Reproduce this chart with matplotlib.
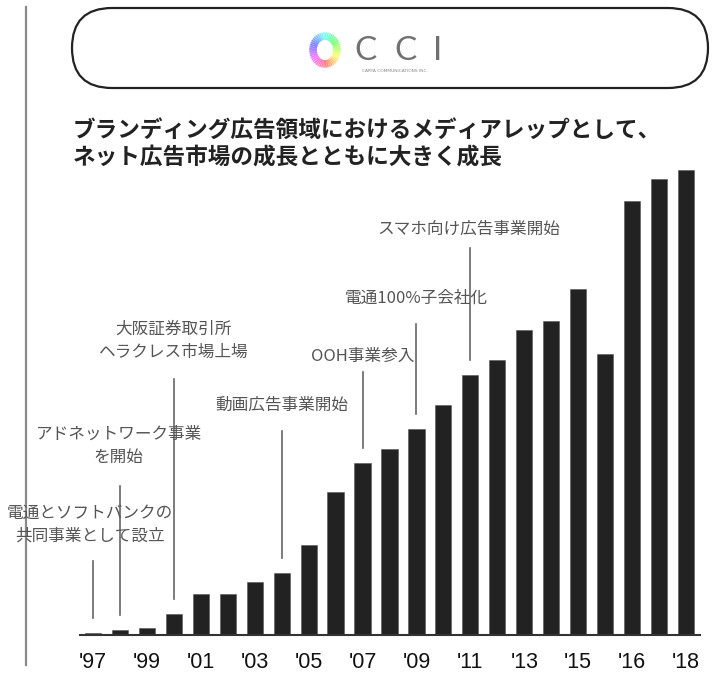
import numpy as np
import matplotlib.pyplot as plt
from matplotlib.patches import FancyBboxPatch

plt.rcParams['font.family'] = ['Noto Sans CJK JP', 'DejaVu Sans']

# bar heights (arbitrary units), one per fiscal period
periods = ['1997', '1998', '1999', '2000', '2001', '2002', '2003', '2004', '2005',
           '2006', '2007', '2008', '2009', '2010', '2011', '2012', '2013', '2014',
           '2015', '2015b', '2016', '2017', '2018']
values = [2.5, 5, 7, 21, 41, 41, 53, 62, 90, 143, 172, 186, 206, 230, 260,
          275, 305, 314, 346, 281, 434, 456, 465]
tick_idx = [0, 2, 4, 6, 8, 10, 12, 14, 16, 18, 20, 22]
tick_labels = ["'97", "'99", "'01", "'03", "'05", "'07", "'09", "'11", "'13",
               "'15", "'16", "'18"]

# milestone notes: bar index, text
notes_idx = [0, 1, 3, 7, 10, 12, 14]
notes_text = [
    '電通とソフトバンクの\n共同事業として設立',
    'アドネットワーク事業\nを開始',
    '大阪証券取引所\nヘラクレス市場上場',
    '動画広告事業開始',
    'OOH事業参入',
    '電通100%子会社化',
    'スマホ向け広告事業開始',
]
# layout of the notes: leader top, label x/y (data units)
notes_line_top = [74, 149, 256, 204, 263, 311, 387]
notes_label_x = [-0.1, 0.95, 3.0, 7.0, 10.0, 12.0, 13.95]
notes_label_y = [110, 189, 294, 230, 279, 337, 406]

W, H = 715, 675
fig = plt.figure(figsize=(W / 100, H / 100), dpi=100)

# decorations in pixel coordinates
deco = fig.add_axes([0, 0, 1, 1])
deco.set_xlim(0, W)
deco.set_ylim(H, 0)
deco.axis('off')

deco.plot([26, 26], [7, 665], color='#8a8a8a', lw=1.6)
box = FancyBboxPatch((72, 8), 636, 80, boxstyle='round,pad=0,rounding_size=40',
                     fc='white', ec='#222222', lw=1.6)
deco.add_patch(box)

# logo ring, pastel rainbow
cmap = plt.get_cmap('hsv')
n = 48
angles = np.linspace(0, 2 * np.pi, n + 1)
for k in range(n):
    a = angles[k:k + 2]
    c = np.array(cmap((0.25 + k / n) % 1)[:3]) * 0.5 + 0.5
    deco.plot(325 + 12 * np.cos(a), 50 - 14 * np.sin(a), color=c, lw=5.5,
              solid_capstyle='butt')
for x, ch in zip([366, 406, 438], ['C', 'C', 'I']):
    deco.text(x, 51, ch, fontsize=24, color='#707070', ha='center', va='center',
              family=['Lato', 'DejaVu Sans'])
deco.text(395, 71, 'CARTA COMMUNICATIONS INC.', fontsize=3.2, color='#888888',
          ha='center', va='center', family=['DejaVu Sans'])

deco.text(73, 144, 'ブランディング広告領域におけるメディアレップとして、\nネット広告市場の成長とともに大きく成長',
          fontsize=16.3, fontweight='bold', color='#222222', ha='left', va='center',
          linespacing=1.2)

# bar chart
ax = fig.add_axes([80 / W, 40 / H, 620 / W, 470 / H])
ax.patch.set_alpha(0)
x = np.arange(len(values))
ax.bar(x, values, width=0.6, color='#222222', edgecolor='#555555', linewidth=0.4)
ax.set_xlim(-0.482, 22.52)
ax.set_ylim(0, 470)
for side in ['top', 'right', 'left']:
    ax.spines[side].set_visible(False)
ax.spines['bottom'].set_color('#333333')
ax.spines['bottom'].set_linewidth(1.5)
ax.set_yticks([])
ax.set_xticks(tick_idx)
ax.set_xticklabels(tick_labels, family=['Liberation Sans', 'DejaVu Sans'],
                   fontsize=15.5, color='#111111')
ax.tick_params(axis='x', length=0, pad=12)

for i, txt, top, lx, ly in zip(notes_idx, notes_text, notes_line_top,
                               notes_label_x, notes_label_y):
    ax.plot([i, i], [values[i] + 15, top], color='#666666', lw=1.2, clip_on=False)
    ax.text(lx, ly, txt, fontsize=12, color='#555555', ha='center', va='center',
            linespacing=1.45, clip_on=False)

fig.savefig('out.png', dpi=100)
